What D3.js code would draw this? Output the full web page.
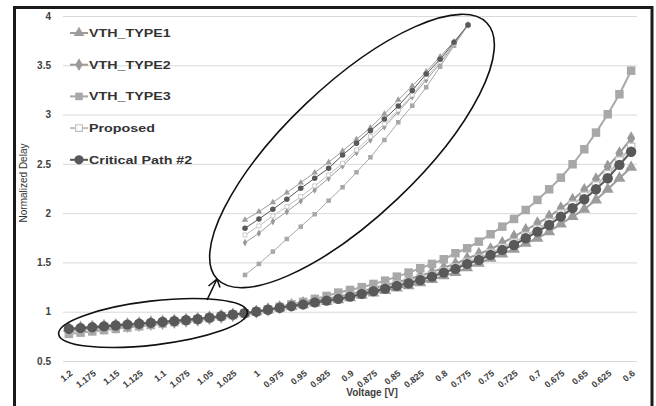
<!DOCTYPE html>
<html lang="en">
<head>
<meta charset="UTF-8">
<title>Normalized Delay</title>
<script src="https://d3js.org/d3.v7.min.js"></script>
<style>
  body { margin: 0; background: #fff; }
  svg { display: block; font-family: "Liberation Sans", Arial, sans-serif; }
  .grid line { stroke: #d9d9d9; stroke-width: 1px; }
  .tick text { font-size: 10px; font-weight: bold; fill: #404040; }
  .xlab .tick text { font-size: 9px; }
</style>
</head>
<body>
<svg width="656" height="406"></svg>
<script>
// categories (voltage steps), only every other one is labelled
const voltages = ["1.2","1.1875","1.175","1.1625","1.15","1.1375","1.125","1.1125","1.1","1.0875",
  "1.075","1.0625","1.05","1.0375","1.025","1.0125","1","0.9875","0.975","0.9625",
  "0.95","0.9375","0.925","0.9125","0.9","0.8875","0.875","0.8625","0.85","0.8375",
  "0.825","0.8125","0.8","0.7875","0.775","0.7625","0.75","0.7375","0.725","0.7125",
  "0.7","0.6875","0.675","0.6625","0.65","0.6375","0.625","0.6125","0.6"];
const xTickLabels = ["1.2","1.175","1.15","1.125","1.1","1.075","1.05","1.025","1","0.975","0.95",
  "0.925","0.9","0.875","0.85","0.825","0.8","0.775","0.75","0.725","0.7","0.675","0.65","0.625","0.6"];
const yTicks = [0.5, 1, 1.5, 2, 2.5, 3, 3.5, 4];

const vthType1 = [0.833,0.841,0.849,0.858,0.867,0.875,0.884,0.893,0.902,0.911,0.92,0.93,0.944,0.958,0.972,0.986,1.0,
  1.018,1.036,1.052,1.069,1.087,1.104,1.12,1.141,1.166,1.19,1.214,1.24,1.264,1.294,1.326,1.364,1.398,1.445,1.492,
  1.542,1.586,1.634,1.694,1.745,1.812,1.89,1.965,2.039,2.134,2.242,2.354,2.465];
const vthType2 = [0.808,0.817,0.827,0.837,0.847,0.857,0.867,0.877,0.887,0.897,0.908,0.919,0.934,0.95,0.966,0.983,1.0,
  1.023,1.046,1.066,1.088,1.111,1.132,1.152,1.178,1.209,1.239,1.268,1.299,1.329,1.365,1.402,1.446,1.486,1.54,1.586,
  1.634,1.695,1.762,1.829,1.897,1.965,2.05,2.134,2.235,2.344,2.472,2.607,2.759];
const vthType3 = [0.775,0.788,0.8,0.813,0.826,0.839,0.852,0.866,0.88,0.894,0.908,0.922,0.937,0.952,0.968,0.984,1.0,
  1.025,1.05,1.075,1.1,1.13,1.16,1.194,1.221,1.249,1.282,1.315,1.356,1.397,1.441,1.485,1.532,1.593,1.644,1.711,
  1.786,1.863,1.941,2.032,2.134,2.242,2.36,2.496,2.648,2.817,3.003,3.206,3.445];
const proposed = [0.815,0.824,0.834,0.843,0.853,0.862,0.872,0.881,0.891,0.9,0.911,0.921,0.937,0.952,0.968,0.984,1.0,
  1.021,1.042,1.06,1.079,1.1,1.119,1.137,1.161,1.19,1.218,1.245,1.274,1.302,1.336,1.371,1.413,1.451,1.503,1.544,
  1.597,1.649,1.701,1.77,1.839,1.909,1.996,2.083,2.176,2.28,2.394,2.533,2.672];
const critPath2 = [0.825,0.833,0.842,0.851,0.86,0.869,0.878,0.887,0.896,0.905,0.915,0.925,0.94,0.955,0.97,0.985,1.0,
  1.02,1.04,1.057,1.075,1.095,1.113,1.13,1.153,1.181,1.208,1.234,1.262,1.289,1.322,1.356,1.397,1.434,1.485,1.525,
  1.576,1.627,1.677,1.745,1.812,1.88,1.965,2.05,2.141,2.242,2.354,2.489,2.623];

// zoomed-in inset of 1.2 .. 1.0 (values as drawn on the main y axis)
const insetVoltages = voltages.slice(0, 17);
const insetType1 = [1.931,2.015,2.11,2.208,2.31,2.411,2.516,2.631,2.749,2.867,3.006,3.148,3.29,3.435,3.587,3.74,3.909];
const insetType2 = [1.701,1.796,1.914,2.015,2.124,2.235,2.354,2.479,2.614,2.742,2.877,3.03,3.182,3.351,3.52,3.713,3.909];
const insetType3 = [1.373,1.485,1.61,1.738,1.863,1.989,2.127,2.263,2.415,2.567,2.742,2.922,3.09,3.277,3.486,3.699,3.909];
const insetProposed = [1.779,1.87,1.972,2.066,2.167,2.276,2.388,2.506,2.641,2.776,2.905,3.047,3.199,3.378,3.537,3.723,3.909];
const insetCrit = [1.846,1.941,2.039,2.141,2.252,2.354,2.455,2.59,2.709,2.837,2.955,3.087,3.243,3.412,3.561,3.733,3.909];

const series = [
  { name: "VTH_TYPE1", main: vthType1, inset: insetType1, symbol: d3.symbolTriangle, size: 62, color: "#9c9c9c", fill: "#9c9c9c" },
  { name: "VTH_TYPE2", main: vthType2, inset: insetType2, symbol: d3.symbolDiamond, size: 58, color: "#999999", fill: "#999999" },
  { name: "VTH_TYPE3", main: vthType3, inset: insetType3, symbol: d3.symbolSquare, size: 72, color: "#a8a8a8", fill: "#a8a8a8" },
  { name: "Proposed", main: proposed, inset: insetProposed, symbol: d3.symbolSquare, size: 56, color: "#c0c0c0", fill: "#ffffff" },
  { name: "Critical Path #2", main: critPath2, inset: insetCrit, symbol: d3.symbolCircle, size: 84, color: "#595959", fill: "#595959" }
];

const svg = d3.select("svg");
const plotLeft = 63, plotRight = 637, plotTop = 16, plotBottom = 361;

const x = d3.scalePoint().domain(voltages).range([plotLeft, plotRight]).padding(0.5);
const y = d3.scaleLinear().domain([0.5, 4]).range([plotBottom, plotTop]);
const xInset = d3.scalePoint().domain(insetVoltages).range([245, 468]);

// frame
svg.append("path")
  .attr("d", "M14.5,406 L14.5,7.5 L652,7.5 L652,406")
  .attr("fill", "none").attr("stroke", "#1a1a1a").attr("stroke-width", 3);

// y grid + labels
const yAxis = svg.append("g").attr("class", "grid")
  .attr("transform", `translate(${plotLeft},0)`)
  .call(d3.axisLeft(y).tickValues(yTicks).tickSize(-(plotRight - plotLeft)).tickPadding(12).tickFormat(d3.format("")));
yAxis.select(".domain").remove();

// x labels, rotated
const xAxis = svg.append("g").attr("class", "xlab")
  .attr("transform", `translate(0,${plotBottom})`)
  .call(d3.axisBottom(x).tickValues(xTickLabels).tickSize(0));
xAxis.select(".domain").remove();
xAxis.selectAll("text")
  .attr("x", 0).attr("y", 0).attr("dy", "0.35em")
  .attr("text-anchor", "end")
  .attr("transform", "translate(2,11) rotate(-38)");

svg.append("text")
  .attr("x", 372).attr("y", 396)
  .attr("text-anchor", "middle")
  .attr("font-size", 10).attr("font-weight", "bold").attr("fill", "#404040")
  .text("Voltage [V]");

svg.append("text")
  .attr("transform", "translate(27,183) rotate(-90)")
  .attr("text-anchor", "middle")
  .attr("font-size", 10).attr("fill", "#333")
  .text("Normalized Delay");

// main series
const line = d3.line().x((d, i) => x(voltages[i])).y(d => y(d));
series.forEach(s => {
  const g = svg.append("g");
  g.append("path").attr("d", line(s.main))
    .attr("fill", "none").attr("stroke", s.color).attr("stroke-width", 2);
  g.selectAll("path.pt").data(s.main).join("path").attr("class", "pt")
    .attr("transform", (d, i) => `translate(${x(voltages[i])},${y(d)})`)
    .attr("d", d3.symbol(s.symbol, s.size))
    .attr("fill", s.fill).attr("stroke", s.color).attr("stroke-width", s.fill === "#ffffff" ? 1.2 : 0);
});

// inset series
const insetLine = d3.line().x((d, i) => xInset(insetVoltages[i])).y(d => y(d));
series.forEach(s => {
  const g = svg.append("g");
  g.append("path").attr("d", insetLine(s.inset))
    .attr("fill", "none").attr("stroke", s.color).attr("stroke-width", 1);
  g.selectAll("path.pt").data(s.inset).join("path").attr("class", "pt")
    .attr("transform", (d, i) => `translate(${xInset(insetVoltages[i])},${y(d)})`)
    .attr("d", d3.symbol(s.symbol, s.size / 3.5))
    .attr("fill", s.fill).attr("stroke", s.color).attr("stroke-width", s.fill === "#ffffff" ? 0.8 : 0);
});

// annotations: ellipses + arrow
svg.append("ellipse")
  .attr("cx", 153).attr("cy", 323).attr("rx", 95).attr("ry", 22)
  .attr("transform", "rotate(-6.7,153,323)")
  .attr("fill", "none").attr("stroke", "#111").attr("stroke-width", 1.6);
svg.append("ellipse")
  .attr("cx", 352).attr("cy", 151).attr("rx", 186).attr("ry", 66)
  .attr("transform", "rotate(-43.5,352,151)")
  .attr("fill", "none").attr("stroke", "#111").attr("stroke-width", 1.6);
svg.append("path")
  .attr("d", "M207,300 L217,279 M208.5,286 L217,279 L220,287.5")
  .attr("fill", "none").attr("stroke", "#111").attr("stroke-width", 1.6);

// legend
const legend = svg.append("g").attr("transform", "translate(70,33)");
series.forEach((s, i) => {
  const g = legend.append("g").attr("transform", `translate(0,${i * 31.7})`);
  g.append("line").attr("x1", 0).attr("x2", 18).attr("stroke", s.color).attr("stroke-width", 2);
  g.append("path").attr("transform", "translate(9,0)")
    .attr("d", d3.symbol(s.symbol, s.size * 0.8))
    .attr("fill", s.fill).attr("stroke", s.color).attr("stroke-width", s.fill === "#ffffff" ? 1.2 : 0);
  g.append("text")
    .attr("transform", "translate(19,4) scale(1.3,1)")
    .attr("font-size", 11).attr("font-weight", "bold").attr("fill", "#333")
    .text(s.name);
});
</script>
</body>
</html>
